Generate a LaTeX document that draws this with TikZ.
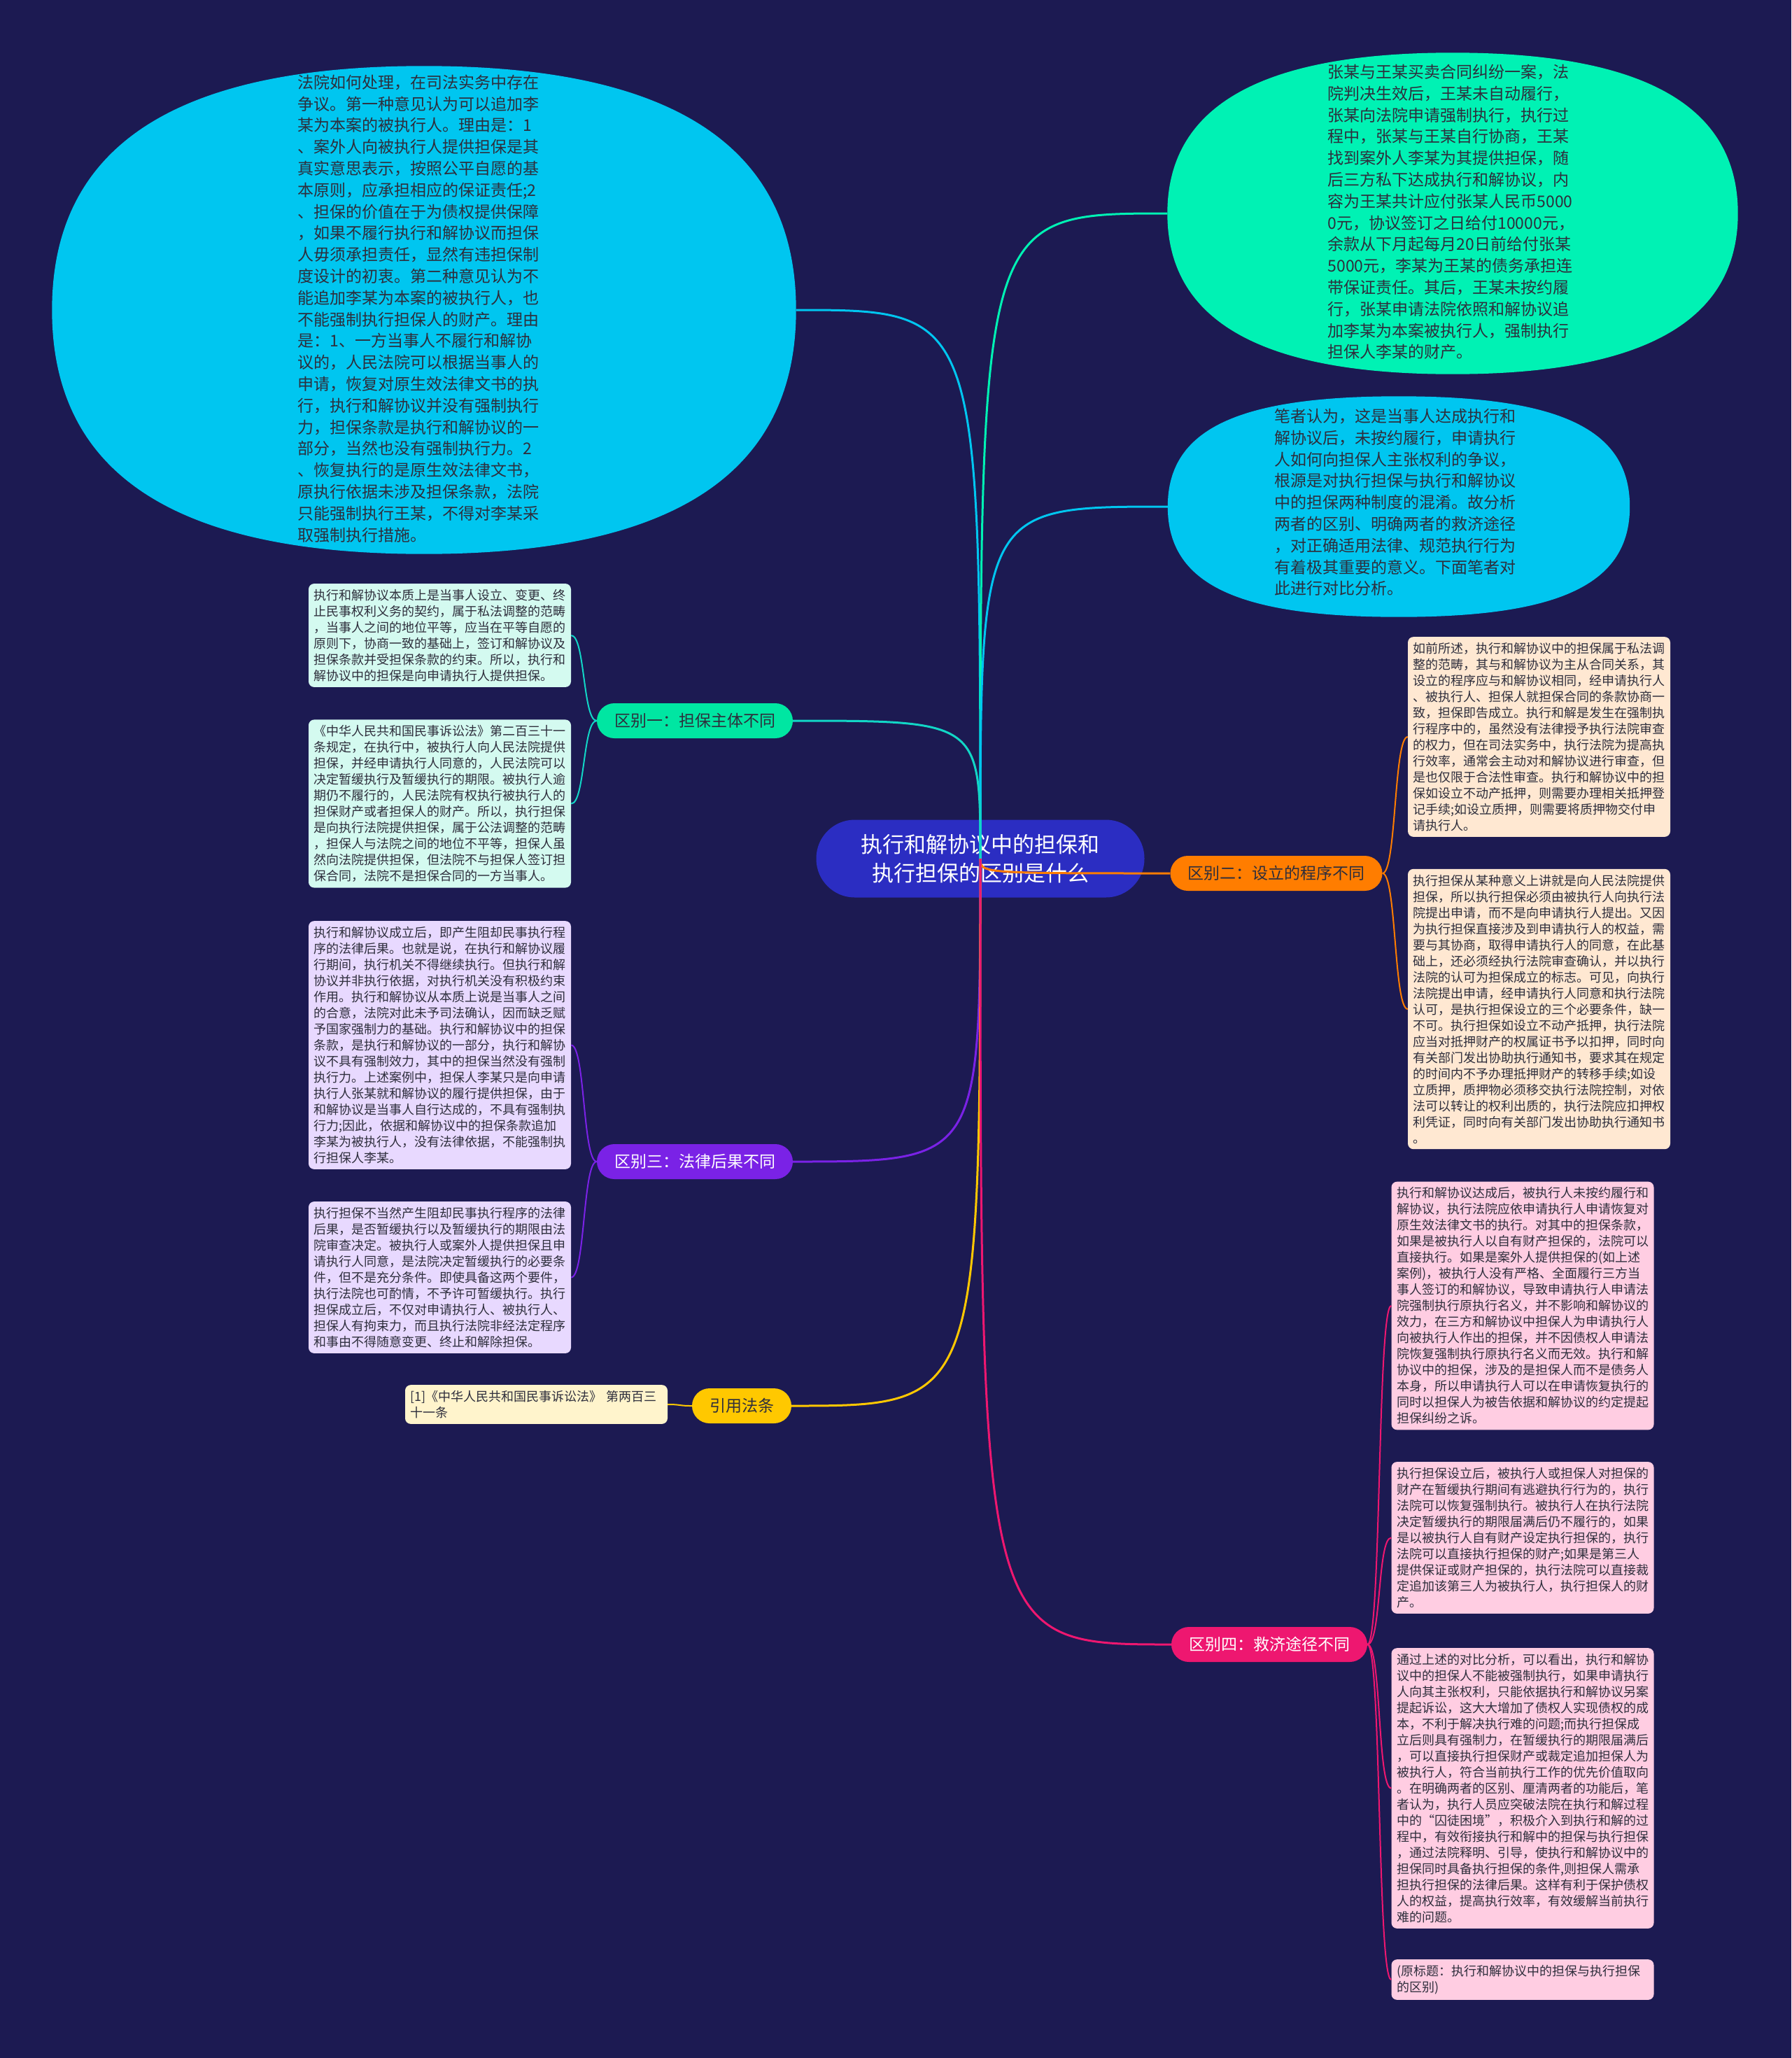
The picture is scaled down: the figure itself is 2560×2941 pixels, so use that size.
\documentclass[tikz,border=0pt]{standalone}
\usepackage{fontspec}
\usepackage{tikz}
\usetikzlibrary{positioning, calc}
\newfontfamily\cjk{Noto Sans CJK SC}
\definecolor{bgnavy}{HTML}{1C1A52}
\definecolor{rootblue}{HTML}{2B2DC2}
\definecolor{skycyan}{HTML}{00C6F0}
\definecolor{seagreen}{HTML}{00F2B4}
\definecolor{mintgreen}{HTML}{00E6A2}
\definecolor{mintline}{HTML}{12D6C6}
\definecolor{mintbox}{HTML}{D4FAF0}
\definecolor{orangex}{HTML}{FF7D00}
\definecolor{peachbox}{HTML}{FFE8D2}
\definecolor{violetx}{HTML}{7A22E6}
\definecolor{lilacbox}{HTML}{E8D9FF}
\definecolor{goldx}{HTML}{FFC800}
\definecolor{creambox}{HTML}{FFF4CC}
\definecolor{pinkx}{HTML}{EE1770}
\definecolor{rosebox}{HTML}{FFCDE2}
\definecolor{inkgray}{HTML}{2E2E3C}
\tikzset{
  bubble/.style={rectangle, inner sep=0pt},
  bubbletext/.style={text width=345pt, align=left, inner sep=0pt, text=inkgray,
    font=\cjk\fontsize{23}{30.8}\selectfont},
  topic/.style={rounded corners=25pt, minimum height=50pt, inner xsep=25pt, inner ysep=0pt,
    font=\cjk\fontsize{23}{28}\selectfont},
  note/.style={rounded corners=8pt, text width=360pt, align=left, inner xsep=7.5pt, inner ysep=8pt,
    text=inkgray, font=\cjk\fontsize{18}{23}\selectfont},
  branch/.style={line width=3pt},
  twig/.style={line width=2pt}
}
% a full oval through the four side points of a box node
\newcommand{\fatbubble}[3]{%
  \fill[#2] (#1.north)
    .. controls ($(#1.north)!#3!(#1.north east)$) and ($(#1.east)!#3!(#1.north east)$) .. (#1.east)
    .. controls ($(#1.east)!#3!(#1.south east)$) and ($(#1.south)!#3!(#1.south east)$) .. (#1.south)
    .. controls ($(#1.south)!#3!(#1.south west)$) and ($(#1.west)!#3!(#1.south west)$) .. (#1.west)
    .. controls ($(#1.west)!#3!(#1.north west)$) and ($(#1.north)!#3!(#1.north west)$) .. (#1.north)
    -- cycle;}
\begin{document}
\begin{tikzpicture}[x=1pt, y=-1pt]
  \fill[bgnavy] (0,0) rectangle (2560,2941);
  \useasboundingbox (0,0) rectangle (2560,2941);
  % centre
  \node[fill=rootblue, text=white, rounded corners=55pt, minimum width=469pt, minimum height=111pt,
    align=center, font=\cjk\fontsize{31}{41}\selectfont] (root) at (1401,1227)
    {执行和解协议中的担保和\\执行担保的区别是什么};
  % the case, the dispute, the author's view
  \node[bubble, minimum width=1063pt, minimum height=697pt] (dispute) at (606,443) {};
  \fatbubble{dispute}{skycyan}{0.67}
  \node[bubbletext] (disputetxt) at (598,441) {法院如何处理，在司法实务中存在\\争议。第一种意见认为可以追加李\\某为本案的被执行人。理由是：1\\、案外人向被执行人提供担保是其\\真实意思表示，按照公平自愿的基\\本原则，应承担相应的保证责任;2\\、担保的价值在于为债权提供保障\\，如果不履行执行和解协议而担保\\人毋须承担责任，显然有违担保制\\度设计的初衷。第二种意见认为不\\能追加李某为本案的被执行人，也\\不能强制执行担保人的财产。理由\\是：1、一方当事人不履行和解协\\议的，人民法院可以根据当事人的\\申请，恢复对原生效法律文书的执\\行，执行和解协议并没有强制执行\\力，担保条款是执行和解协议的一\\部分，当然也没有强制执行力。2\\、恢复执行的是原生效法律文书，\\原执行依据未涉及担保条款，法院\\只能强制执行王某，不得对李某采\\取强制执行措施。};
  \node[bubble, minimum width=815pt, minimum height=459pt] (case) at (2076,305) {};
  \fatbubble{case}{seagreen}{0.67}
  \node[bubbletext] (casetxt) at (2070,303) {张某与王某买卖合同纠纷一案，法\\院判决生效后，王某未自动履行，\\张某向法院申请强制执行，执行过\\程中，张某与王某自行协商，王某\\找到案外人李某为其提供担保，随\\后三方私下达成执行和解协议，内\\容为王某共计应付张某人民币5000\\0元，协议签订之日给付10000元，\\余款从下月起每月20日前给付张某\\5000元，李某为王某的债务承担连\\带保证责任。其后，王某未按约履\\行，张某申请法院依照和解协议追\\加李某为本案被执行人，强制执行\\担保人李某的财产。};
  \node[bubble, minimum width=660pt, minimum height=315pt] (view) at (1999,724) {};
  \fatbubble{view}{skycyan}{0.70}
  \node[bubbletext] (viewtxt) at (1994,718) {笔者认为，这是当事人达成执行和\\解协议后，未按约履行，申请执行\\人如何向担保人主张权利的争议，\\根源是对执行担保与执行和解协议\\中的担保两种制度的混淆。故分析\\两者的区别、明确两者的救济途径\\，对正确适用法律、规范执行行为\\有着极其重要的意义。下面笔者对\\此进行对比分析。};
  % topics
  \node[topic, fill=mintgreen, text=inkgray] (diff1) at (993,1030) {区别一：担保主体不同};
  \node[topic, fill=orangex, text=inkgray] (diff2) at (1824,1248) {区别二：设立的程序不同};
  \node[topic, fill=violetx, text=white] (diff3) at (993,1660) {区别三：法律后果不同};
  \node[topic, fill=goldx, text=inkgray] (cite) at (1060,2009) {引用法条};
  \node[topic, fill=pinkx, text=white] (diff4) at (1814,2350) {区别四：救济途径不同};
  % notes of diff1
  \node[note, fill=mintbox] (subj1) at (628.5,908) {执行和解协议本质上是当事人设立、变更、终\\止民事权利义务的契约，属于私法调整的范畴\\，当事人之间的地位平等，应当在平等自愿的\\原则下，协商一致的基础上，签订和解协议及\\担保条款并受担保条款的约束。所以，执行和\\解协议中的担保是向申请执行人提供担保。};
  \node[note, fill=mintbox] (subj2) at (628.5,1148.5) {《中华人民共和国民事诉讼法》第二百三十一\\条规定，在执行中，被执行人向人民法院提供\\担保，并经申请执行人同意的，人民法院可以\\决定暂缓执行及暂缓执行的期限。被执行人逾\\期仍不履行的，人民法院有权执行被执行人的\\担保财产或者担保人的财产。所以，执行担保\\是向执行法院提供担保，属于公法调整的范畴\\，担保人与法院之间的地位不平等，担保人虽\\然向法院提供担保，但法院不与担保人签订担\\保合同，法院不是担保合同的一方当事人。};
  % notes of diff2
  \node[note, fill=peachbox] (proc1) at (2199.5,1053) {如前所述，执行和解协议中的担保属于私法调\\整的范畴，其与和解协议为主从合同关系，其\\设立的程序应与和解协议相同，经申请执行人\\、被执行人、担保人就担保合同的条款协商一\\致，担保即告成立。执行和解是发生在强制执\\行程序中的，虽然没有法律授予执行法院审查\\的权力，但在司法实务中，执行法院为提高执\\行效率，通常会主动对和解协议进行审查，但\\是也仅限于合法性审查。执行和解协议中的担\\保如设立不动产抵押，则需要办理相关抵押登\\记手续;如设立质押，则需要将质押物交付申\\请执行人。};
  \node[note, fill=peachbox] (proc2) at (2199.5,1442) {执行担保从某种意义上讲就是向人民法院提供\\担保，所以执行担保必须由被执行人向执行法\\院提出申请，而不是向申请执行人提出。又因\\为执行担保直接涉及到申请执行人的权益，需\\要与其协商，取得申请执行人的同意，在此基\\础上，还必须经执行法院审查确认，并以执行\\法院的认可为担保成立的标志。可见，向执行\\法院提出申请，经申请执行人同意和执行法院\\认可，是执行担保设立的三个必要条件，缺一\\不可。执行担保如设立不动产抵押，执行法院\\应当对抵押财产的权属证书予以扣押，同时向\\有关部门发出协助执行通知书，要求其在规定\\的时间内不予办理抵押财产的转移手续;如设\\立质押，质押物必须移交执行法院控制，对依\\法可以转让的权利出质的，执行法院应扣押权\\利凭证，同时向有关部门发出协助执行通知书\\。};
  % notes of diff3
  \node[note, fill=lilacbox] (effect1) at (628.5,1493.5) {执行和解协议成立后，即产生阻却民事执行程\\序的法律后果。也就是说，在执行和解协议履\\行期间，执行机关不得继续执行。但执行和解\\协议并非执行依据，对执行机关没有积极约束\\作用。执行和解协议从本质上说是当事人之间\\的合意，法院对此未予司法确认，因而缺乏赋\\予国家强制力的基础。执行和解协议中的担保\\条款，是执行和解协议的一部分，执行和解协\\议不具有强制效力，其中的担保当然没有强制\\执行力。上述案例中，担保人李某只是向申请\\执行人张某就和解协议的履行提供担保，由于\\和解协议是当事人自行达成的，不具有强制执\\行力;因此，依据和解协议中的担保条款追加\\李某为被执行人，没有法律依据，不能强制执\\行担保人李某。};
  \node[note, fill=lilacbox] (effect2) at (628.5,1825.5) {执行担保不当然产生阻却民事执行程序的法律\\后果，是否暂缓执行以及暂缓执行的期限由法\\院审查决定。被执行人或案外人提供担保且申\\请执行人同意，是法院决定暂缓执行的必要条\\件，但不是充分条件。即使具备这两个要件，\\执行法院也可酌情，不予许可暂缓执行。执行\\担保成立后，不仅对申请执行人、被执行人、\\担保人有拘束力，而且执行法院非经法定程序\\和事由不得随意变更、终止和解除担保。};
  % note of cite
  \node[note, fill=creambox] (lawref) at (766.5,2007) {[1]《中华人民共和国民事诉讼法》 第两百三\\十一条};
  % notes of diff4
  \node[note, fill=rosebox] (remedy1) at (2176,1866) {执行和解协议达成后，被执行人未按约履行和\\解协议，执行法院应依申请执行人申请恢复对\\原生效法律文书的执行。对其中的担保条款，\\如果是被执行人以自有财产担保的，法院可以\\直接执行。如果是案外人提供担保的(如上述\\案例)，被执行人没有严格、全面履行三方当\\事人签订的和解协议，导致申请执行人申请法\\院强制执行原执行名义，并不影响和解协议的\\效力，在三方和解协议中担保人为申请执行人\\向被执行人作出的担保，并不因债权人申请法\\院恢复强制执行原执行名义而无效。执行和解\\协议中的担保，涉及的是担保人而不是债务人\\本身，所以申请执行人可以在申请恢复执行的\\同时以担保人为被告依据和解协议的约定提起\\担保纠纷之诉。};
  \node[note, fill=rosebox] (remedy2) at (2176,2197.5) {执行担保设立后，被执行人或担保人对担保的\\财产在暂缓执行期间有逃避执行行为的，执行\\法院可以恢复强制执行。被执行人在执行法院\\决定暂缓执行的期限届满后仍不履行的，如果\\是以被执行人自有财产设定执行担保的，执行\\法院可以直接执行担保的财产;如果是第三人\\提供保证或财产担保的，执行法院可以直接裁\\定追加该第三人为被执行人，执行担保人的财\\产。};
  \node[note, fill=rosebox] (remedy3) at (2176,2555.5) {通过上述的对比分析，可以看出，执行和解协\\议中的担保人不能被强制执行，如果申请执行\\人向其主张权利，只能依据执行和解协议另案\\提起诉讼，这大大增加了债权人实现债权的成\\本，不利于解决执行难的问题;而执行担保成\\立后则具有强制力，在暂缓执行的期限届满后\\，可以直接执行担保财产或裁定追加担保人为\\被执行人，符合当前执行工作的优先价值取向\\。在明确两者的区别、厘清两者的功能后，笔\\者认为，执行人员应突破法院在执行和解过程\\中的“囚徒困境”，积极介入到执行和解的过\\程中，有效衔接执行和解中的担保与执行担保\\，通过法院释明、引导，使执行和解协议中的\\担保同时具备执行担保的条件,则担保人需承\\担执行担保的法律后果。这样有利于保护债权\\人的权益，提高执行效率，有效缓解当前执行\\难的问题。};
  \node[note, fill=rosebox] (remedy4) at (2176,2829) {(原标题：执行和解协议中的担保与执行担保\\的区别)};
  % branches from the centre
  \draw[branch, skycyan] (root.center) .. controls (root.center |- dispute.east) .. (dispute.east);
  \draw[branch, seagreen] (root.center) .. controls (root.center |- case.west) .. (case.west);
  \draw[branch, skycyan] (root.center) .. controls (root.center |- view.west) .. (view.west);
  \draw[branch, mintline] (root.center) .. controls (root.center |- diff1.east) .. (diff1.east);
  \draw[branch, orangex] (root.center) .. controls (root.center |- diff2.west) .. (diff2.west);
  \draw[branch, violetx] (root.center) .. controls (root.center |- diff3.east) .. (diff3.east);
  \draw[branch, goldx] (root.center) .. controls (root.center |- cite.east) .. (cite.east);
  \draw[branch, pinkx] (root.center) .. controls (root.center |- diff4.west) .. (diff4.west);
  % twigs
  \draw[twig, mintline] (diff1.west) .. controls +(-20,0) and +(20,0) .. (subj1.east);
  \draw[twig, mintline] (diff1.west) .. controls +(-20,0) and +(20,0) .. (subj2.east);
  \draw[twig, orangex] (diff2.east) .. controls +(20,0) and +(-20,0) .. (proc1.west);
  \draw[twig, orangex] (diff2.east) .. controls +(20,0) and +(-20,0) .. (proc2.west);
  \draw[twig, violetx] (diff3.west) .. controls +(-20,0) and +(20,0) .. (effect1.east);
  \draw[twig, violetx] (diff3.west) .. controls +(-20,0) and +(20,0) .. (effect2.east);
  \draw[twig, goldx] (cite.west) .. controls +(-20,0) and +(20,0) .. (lawref.east);
  \draw[twig, pinkx] (diff4.east) .. controls +(20,0) and +(-20,0) .. (remedy1.west);
  \draw[twig, pinkx] (diff4.east) .. controls +(20,0) and +(-20,0) .. (remedy2.west);
  \draw[twig, pinkx] (diff4.east) .. controls +(20,0) and +(-20,0) .. (remedy3.west);
  \draw[twig, pinkx] (diff4.east) .. controls +(20,0) and +(-20,0) .. (remedy4.west);
\end{tikzpicture}
\end{document}
